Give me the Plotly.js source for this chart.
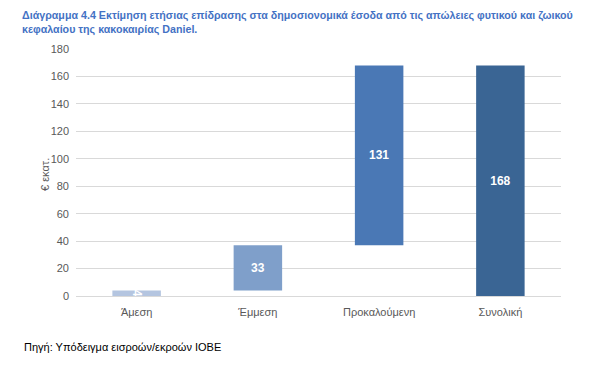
<!DOCTYPE html>
<html><head><meta charset="utf-8">
<script src="https://cdn.plot.ly/plotly-3.0.1.min.js"></script>
<style>html,body{margin:0;padding:0;background:#fff}#c{width:590px;height:365px}</style>
</head><body><div id="c"></div>
<script>
const categories = ["Άμεση", "Έμμεση", "Προκαλούμενη", "Συνολική"];
const values = [4, 33, 131, 168];
const isTotal = [false, false, false, true];
const colors = ["#B4C5E0", "#7F9FCA", "#4A78B5", "#3A6594"];
const yTicks = [0, 20, 40, 60, 80, 100, 120, 140, 160, 180];

let run = 0;
const bases = values.map((v, i) => {
  if (isTotal[i]) return 0;
  const b = run; run += v; return b;
});

const trace = {
  type: "bar",
  x: categories,
  y: values,
  base: bases,
  width: 0.4,
  marker: {color: colors},
  text: values.map(String),
  textposition: "inside",
  insidetextanchor: "middle",
  constraintext: "none",
  textfont: {color: "#ffffff", size: 12, family: "Liberation Sans, Arial", weight: "bold"},
  hoverinfo: "skip"
};

const layout = {
  width: 590, height: 365,
  margin: {l: 76, r: 29, t: 49, b: 69},
  paper_bgcolor: "#fff", plot_bgcolor: "#fff",
  showlegend: false,
  font: {family: "Liberation Sans, Arial", size: 11, color: "#595959"},
  xaxis: {showgrid: false, showline: false, ticks: "", ticklabelstandoff: 8, tickfont: {size: 11, color: "#595959"}},
  yaxis: {range: [0, 180], tickvals: yTicks, showgrid: true, gridcolor: "#D9D9D9", gridwidth: 1,
          zeroline: true, zerolinecolor: "#D9D9D9", showline: false, ticks: "", ticklabelstandoff: 6,
          tickfont: {size: 11, color: "#595959"}},
  annotations: [
    {text: "<b>Διάγραμμα 4.4 Εκτίμηση ετήσιας επίδρασης στα δημοσιονομικά έσοδα από τις απώλειες φυτικού και ζωικού<br>κεφαλαίου της κακοκαιρίας Daniel.</b>",
     xref: "paper", yref: "paper", x: 0, xshift: -56, y: 1, yshift: 42, xanchor: "left", yanchor: "top", align: "left",
     showarrow: false, font: {family: "Liberation Sans, Arial", size: 10.7, color: "#4472C4"}},
    {text: "€ εκατ.", xref: "paper", yref: "paper", x: 0, xshift: -39, y: 0.49, textangle: -90,
     showarrow: false, font: {size: 11, color: "#595959"}},
    {text: "Πηγή: Υπόδειγμα εισροών/εκροών ΙΟΒΕ", xref: "paper", yref: "paper", x: 0, xshift: -54, y: 0, yshift: -51,
     xanchor: "left", yanchor: "middle", showarrow: false, font: {size: 11, color: "#000000"}}
  ]
};

Plotly.newPlot("c", [trace], layout, {displayModeBar: false, staticPlot: true});
</script></body></html>
